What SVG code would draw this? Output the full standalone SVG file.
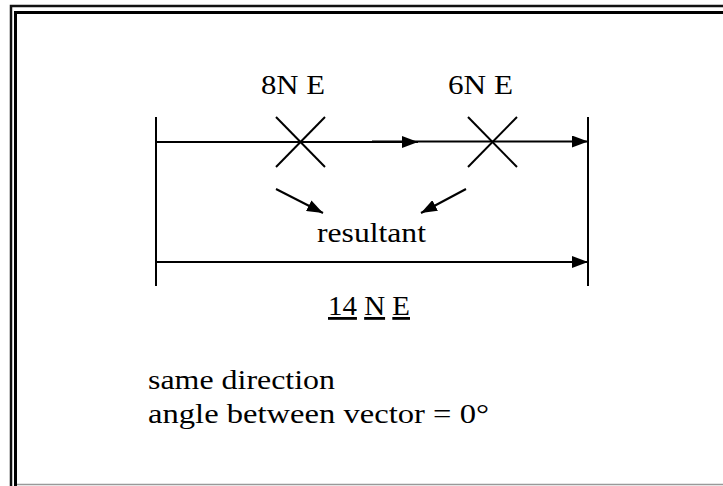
<svg xmlns="http://www.w3.org/2000/svg" width="723" height="486" viewBox="0 0 723 486">
<style>
.ln{stroke:#000;stroke-width:2;fill:none}
.t{font-family:'Liberation Serif','Times New Roman',serif;font-size:28px;fill:#000}
</style>
<defs>
<marker id="ah" markerWidth="16" markerHeight="12" refX="16" refY="6" orient="auto" markerUnits="userSpaceOnUse">
<path d="M0,0 L16,6 L0,12 Z" fill="#000"/>
</marker>
</defs>
<rect width="723" height="486" fill="#fff"/>
<g id="frame">
<polyline points="11,490 11,6 730,6" fill="none" stroke="#111" stroke-width="2.5"/>
<polyline points="15.5,490 15.5,12.5 730,12.5" fill="none" stroke="#000" stroke-width="3"/>
<line x1="17" y1="484.5" x2="723" y2="484.5" stroke="#999" stroke-width="1.5"/>
</g>
<g id="connectors">
<line class="ln" x1="156" y1="117" x2="156" y2="286"/>
<line class="ln" x1="588" y1="117" x2="588" y2="286"/>
<line class="ln" x1="156" y1="142" x2="418" y2="142" marker-end="url(#ah)"/>
<line class="ln" x1="372" y1="141.5" x2="588" y2="141.5" marker-end="url(#ah)"/>
<line class="ln" x1="156" y1="262" x2="588" y2="262" marker-end="url(#ah)"/>
<line class="ln" x1="276" y1="189" x2="323" y2="213" marker-end="url(#ah)"/>
<line class="ln" x1="466" y1="189" x2="421" y2="213" marker-end="url(#ah)"/>
</g>
<g id="cross1">
<line class="ln" x1="276" y1="117" x2="325" y2="167"/>
<line class="ln" x1="325" y1="117" x2="276" y2="167"/>
</g>
<g id="cross2">
<line class="ln" x1="468" y1="117" x2="517" y2="167"/>
<line class="ln" x1="517" y1="117" x2="468" y2="167"/>
</g>
<g id="labels">
<text class="t" x="261" y="94" textLength="64" lengthAdjust="spacingAndGlyphs">8N E</text>
<text class="t" x="448" y="94" textLength="65" lengthAdjust="spacingAndGlyphs">6N E</text>
<text class="t" x="317" y="242" textLength="109" lengthAdjust="spacingAndGlyphs">resultant</text>
<text class="t" x="328" y="315" textLength="82" lengthAdjust="spacingAndGlyphs"><tspan text-decoration="underline">14</tspan> <tspan text-decoration="underline">N</tspan> <tspan text-decoration="underline">E</tspan></text>
<text class="t" x="148" y="389" textLength="187" lengthAdjust="spacingAndGlyphs">same direction</text>
<text class="t" x="148" y="423" textLength="341" lengthAdjust="spacingAndGlyphs">angle between vector = 0°</text>
</g>
</svg>
